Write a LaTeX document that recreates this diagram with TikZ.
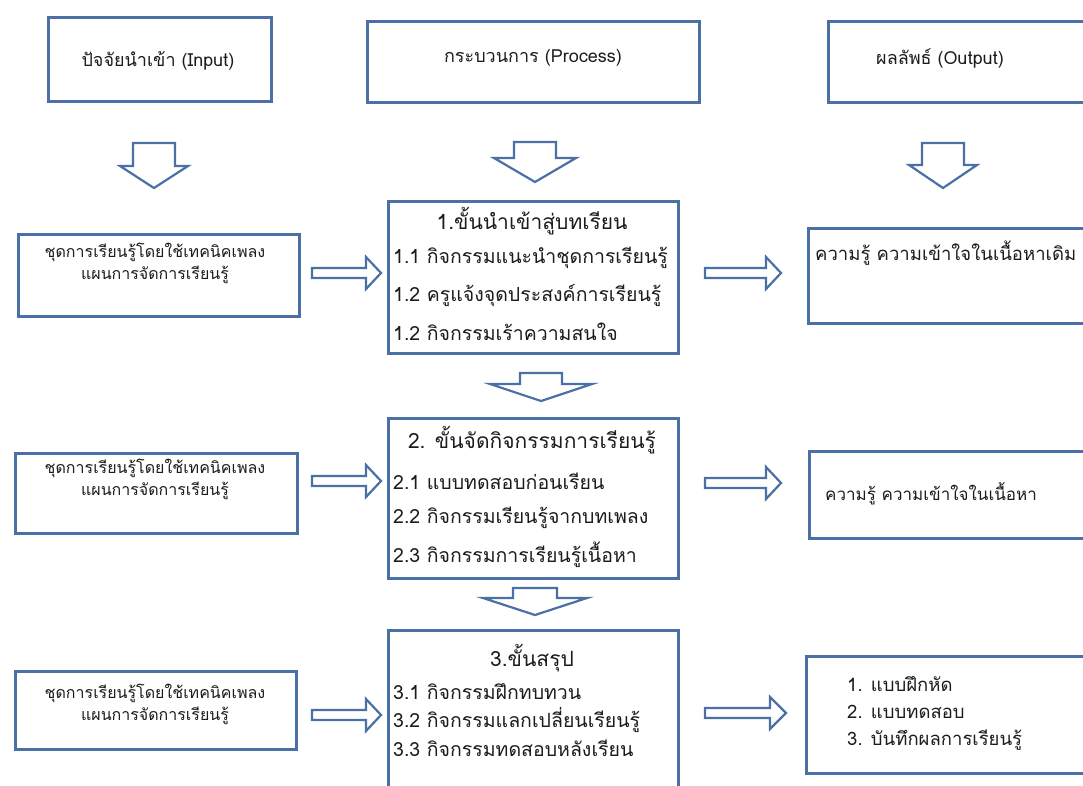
\documentclass[tikz,border=0pt]{standalone}
\usepackage{fontspec}
\setmainfont[Script=Thai]{Loma}
\usetikzlibrary{calc}
\definecolor{bblue}{RGB}{74,112,165}
\definecolor{txt}{RGB}{28,28,28}
\newcommand\mydarrow[6]{% x, ytop, yhead, ytip, shafthalf, headhalf
  \draw[blk] ({#1-#5},#2) -- ({#1+#5},#2) -- ({#1+#5},#3) -- ({#1+#6},#3) -- (#1,#4)
    -- ({#1-#6},#3) -- ({#1-#5},#3) -- cycle;}
\newcommand\myrarrow[6]{% xstart, xhead, xtip, y, shafthalf, headhalf
  \draw[blk] (#1,{#4-#5}) -- (#2,{#4-#5}) -- (#2,{#4-#6}) -- (#3,#4) -- (#2,{#4+#6})
    -- (#2,{#4+#5}) -- (#1,{#4+#5}) -- cycle;}
\begin{document}
\begin{tikzpicture}[x=1pt,y=-1pt,
  box/.style={draw=bblue,line width=2.8pt,fill=white,anchor=north west,inner sep=0pt},
  blk/.style={draw=bblue,line width=2.2pt,fill=white,line join=miter},
  lbl/.style={text=txt,font=\fontsize{16}{19}\selectfont,inner sep=0pt},
  hdr/.style={text=txt,font=\fontsize{18}{21}\selectfont,inner sep=0pt},
  item/.style={text=txt,font=\fontsize{19.5}{22}\selectfont,inner sep=0pt,anchor=west},
  ttl/.style={text=txt,font=\fontsize{21}{24}\selectfont,inner sep=0pt},
  outt/.style={text=txt,font=\fontsize{18.5}{21}\selectfont,inner sep=0pt,anchor=west}]
\useasboundingbox (0,0) rectangle (1083,785);
\fill[white] (0,0) rectangle (1083,785);

% header boxes
\node[box,minimum width=223pt,minimum height=84pt] (hin) at (47,16) {};
\node[box,minimum width=332pt,minimum height=81pt] (hpr) at (366,20) {};
\node[box,minimum width=280pt,minimum height=81pt] (hout) at (827,20) {};
\node[hdr] (thin) at (158,61) {ปัจจัยนำเข้า (Input)};
\node[hdr] (thpr) at (533,58) {กระบวนการ (Process)};
\node[hdr] (thout) at (940,58) {ผลลัพธ์ (Output)};

% top down arrows
\mydarrow{154}{143}{166}{188}{21}{34}
\mydarrow{535}{142}{158}{182}{21}{41}
\mydarrow{943}{143}{165}{188}{21}{34}

% left boxes
\node[box,minimum width=281pt,minimum height=82pt] (in1) at (17,233) {};
\node[box,minimum width=282pt,minimum height=80pt] (in2) at (14,452) {};
\node[box,minimum width=281pt,minimum height=78pt] (in3) at (14,670) {};
\node[lbl,align=center] (tin1) at (155,263) {ชุดการเรียนรู้โดยใช้เทคนิคเพลง\\[3pt]แผนการจัดการเรียนรู้};
\node[lbl,align=center] (tin2) at (155,479) {ชุดการเรียนรู้โดยใช้เทคนิคเพลง\\[3pt]แผนการจัดการเรียนรู้};
\node[lbl,align=center] (tin3) at (155,704) {ชุดการเรียนรู้โดยใช้เทคนิคเพลง\\[3pt]แผนการจัดการเรียนรู้};

% process boxes
\node[box,minimum width=290pt,minimum height=152pt] (p1) at (387,200) {};
\node[box,minimum width=290pt,minimum height=160pt] (p2) at (387,417) {};
\node[box,minimum width=290pt,minimum height=170pt] (p3) at (387,629) {};

\node[ttl] (p1t) at (532,221) {1.ขั้นนำเข้าสู่บทเรียน};
\node[item] (p1a) at (393,258) {1.1 กิจกรรมแนะนำชุดการเรียนรู้};
\node[item] (p1b) at (393,295) {1.2 ครูแจ้งจุดประสงค์การเรียนรู้};
\node[item] (p1c) at (393,332) {1.2 กิจกรรมเร้าความสนใจ};

\node[ttl] (p2t) at (532,440) {2. ขั้นจัดกิจกรรมการเรียนรู้};
\node[item] (p2a) at (393,481) {2.1 แบบทดสอบก่อนเรียน};
\node[item] (p2b) at (393,518) {2.2 กิจกรรมเรียนรู้จากบทเพลง};
\node[item] (p2c) at (393,555) {2.3 กิจกรรมการเรียนรู้เนื้อหา};

\node[ttl] (p3t) at (532,658) {3.ขั้นสรุป};
\node[item] (p3a) at (393,692) {3.1 กิจกรรมฝึกทบทวน};
\node[item] (p3b) at (393,720) {3.2 กิจกรรมแลกเปลี่ยนเรียนรู้};
\node[item] (p3c) at (393,748) {3.3 กิจกรรมทดสอบหลังเรียน};

% process down arrows
\mydarrow{541}{373}{384}{401}{21}{51}
\mydarrow{535}{588}{598}{615}{22}{52}

% output boxes
\node[box,minimum width=290pt,minimum height=95pt] (o1) at (807,227) {};
\node[box,minimum width=290pt,minimum height=87pt] (o2) at (808,450) {};
\node[box,minimum width=290pt,minimum height=117pt] (o3) at (805,655) {};
\node[outt] (to1) at (815,253) {ความรู้ ความเข้าใจในเนื้อหาเดิม};
\node[outt,anchor=center,font=\fontsize{17}{20}\selectfont] (to2) at (931,494) {ความรู้ ความเข้าใจในเนื้อหา};
\node[outt] (to3a) at (847,684) {1. แบบฝึกหัด};
\node[outt] (to3b) at (847,712) {2. แบบทดสอบ};
\node[outt] (to3c) at (847,740) {3. บันทึกผลการเรียนรู้};

% right arrows
\myrarrow{312}{366}{381}{273}{5}{16}
\myrarrow{312}{366}{381}{481}{5}{16}
\myrarrow{312}{366}{381}{715}{5}{16}
\myrarrow{705}{766}{781}{273}{5}{16}
\myrarrow{705}{766}{781}{483}{5}{16}
\myrarrow{705}{770}{786}{713}{5}{16}
\end{tikzpicture}
\end{document}
